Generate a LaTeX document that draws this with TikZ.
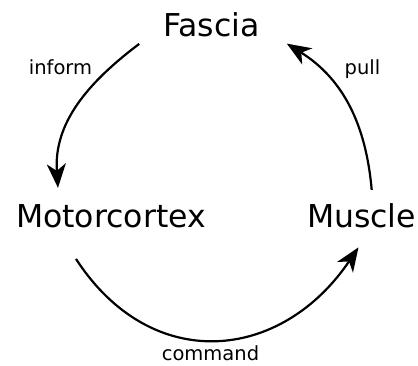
\documentclass[tikz,border=0pt]{standalone}
\usepackage{fontspec}
\setmainfont{DejaVu Sans}
\usepackage{tikz}
\usetikzlibrary{arrows.meta}

\begin{document}
\begin{tikzpicture}[x=1pt, y=1pt,
        big/.style={inner sep=0pt, anchor=base, font=\fontsize{31.5}{38}\selectfont},
        lbl/.style={inner sep=0pt, anchor=base, font=\fontsize{19.5}{23}\selectfont},
        arr/.style={line width=2.2pt, -{Stealth[length=24pt, width=19pt, inset=7pt]}}]
            \useasboundingbox (0, 0) rectangle (418, 366);

            % Die drei Begriffe
            \node[big] (fascia) at (211.5, 329) {Fascia};
            \node[big] (motor)  at (111, 138)   {Motorcortex};
            \node[big] (muscle) at (361.5, 138) {Muscle};

            % Pfeile im Kreis
            \draw[arr] ([shift={(-24, -6.3)}]fascia.south west)
                to[out=217, in=94] ([shift={(-53, 17)}]motor.north);
            \draw[arr] ([shift={(-35, -30.3)}]motor.south)
                to[out=-57, in=236, looseness=1.25] ([shift={(-3, -18.7)}]muscle.south);
            \draw[arr] ([shift={(10.2, 14)}]muscle.north)
                to[out=95, in=-32] ([shift={(27, -6)}]fascia.south east);

            % Beschriftung der Pfeile
            \node[lbl] (inform)  at (60.5, 291) {inform};
            \node[lbl] (pull)    at (362.5, 291) {pull};
            \node[lbl] (command) at (210.5, 5)  {command};
        \end{tikzpicture}
\end{document}
